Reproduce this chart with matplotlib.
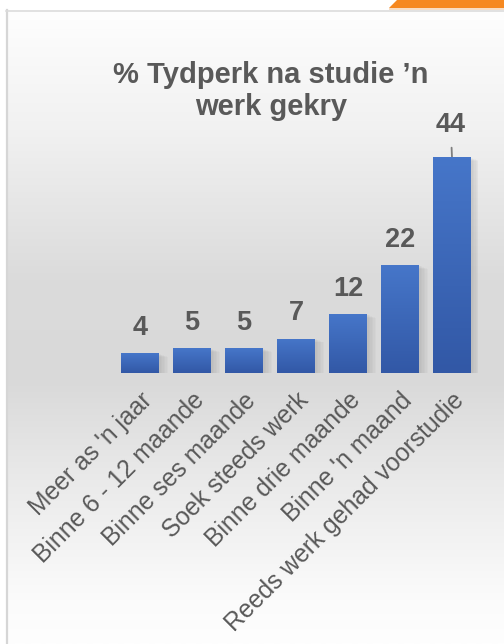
import numpy as np
import matplotlib
matplotlib.use('Agg')
import matplotlib.pyplot as plt
import matplotlib.transforms as mtransforms
from matplotlib.patches import Polygon, Rectangle

plt.rcParams['font.family'] = ['Liberation Sans', 'DejaVu Sans']

# data
categories = ["Meer as 'n jaar", "Binne 6 - 12 maande", "Binne ses maande",
              "Soek steeds werk", "Binne drie maande", "Binne 'n maand",
              "Reeds werk gehad voorstudie"]
values = [4, 5, 5, 7, 12, 22, 44]
title = "% Tydperk na studie \u2019n\nwerk gekry"

grey_text = '#595959'

fig = plt.figure(figsize=(5.04, 6.44), dpi=100)

# background panel with vertical gradient
bg = fig.add_axes([0, 0, 1, 1], zorder=-10)
bg.set_xlim(0, 504)
bg.set_ylim(644, 0)
bg.axis('off')
ys = np.arange(10, 645)
shade = np.interp(ys, [10, 130, 280, 380, 480, 600, 644],
                  [254, 241, 219, 217, 234, 251, 254]) / 255
grad = np.repeat(shade[:, None], 3, axis=1)[:, None, :]
bg.imshow(grad, extent=(6, 504, 644, 10), aspect='auto', interpolation='bilinear')
bg.plot([6.5, 6.5], [10, 644], color='#d6d6d6', lw=1.6)
bg.plot([6, 504], [10.5, 10.5], color='#dcdcdc', lw=1.2)
bg.add_patch(Polygon([(397, 0), (504, 0), (504, 8), (389, 8)], closed=True,
                     color='#f6881f', lw=0))
bg.add_patch(Rectangle((389, 8), 115, 2, color='#f8dcc2', lw=0))

# chart
ax = fig.add_axes([114 / 504, 1 - 373 / 644, 364 / 504, 245 / 644])
ax.set_facecolor('none')
x = np.arange(len(values))
bars = ax.bar(x, values, width=0.73, color='#3d66b8', zorder=3)

# soft shadows and gradient fill
top_c = np.array([0x46, 0x76, 0xc9]) / 255
bot_c = np.array([0x32, 0x58, 0xa6]) / 255
for b in bars:
    bx, bw, bh = b.get_x(), b.get_width(), b.get_height()
    for k in range(1, 7):
        ax.add_patch(Rectangle((bx + 0.02 * k, -0.12 * k), bw + 0.01 * k, bh,
                               color='black', alpha=0.018, lw=0, zorder=2))
    t = np.linspace(0, 1, 50)[:, None, None]
    img = top_c * (1 - t) + bot_c * t
    im = ax.imshow(img, extent=(bx, bx + bw, 0, bh), aspect='auto',
                   interpolation='bilinear', zorder=4)
    im.set_clip_path(b)

for xi, v in zip(x, values):
    if v == max(values):
        ax.annotate(str(v), xy=(xi, v), xytext=(-1, 14), textcoords='offset points',
                    ha='center', va='bottom', fontsize=19.5, fontweight='bold',
                    color=grey_text,
                    arrowprops=dict(arrowstyle='-', color='#7f7f7f', lw=1.3,
                                    shrinkA=5, shrinkB=0))
    else:
        ax.annotate(str(v), xy=(xi, v), xytext=(0, 9), textcoords='offset points',
                    ha='center', va='bottom', fontsize=19.5, fontweight='bold',
                    color=grey_text)

ax.set_xlim(-0.5, len(values) - 0.5)
ax.set_ylim(0, 50)
ax.set_yticks([])
ax.set_xticks(x)
ax.set_xticklabels(categories, fontsize=17.8, color=grey_text)
shift = mtransforms.ScaledTranslation(-6 / 100, 0, fig.dpi_scale_trans)
for lab in ax.get_xticklabels():
    lab.set_rotation(45)
    lab.set_ha('right')
    lab.set_rotation_mode('anchor')
    lab.set_transform(lab.get_transform() + shift)
ax.tick_params(axis='x', length=0, pad=11)
for s in ax.spines.values():
    s.set_visible(False)

fig.text(271 / 504, 1 - 61 / 644, title, ha='center', va='top', fontsize=21,
         fontweight='bold', color=grey_text, linespacing=1.2)

fig.savefig('out.png', dpi=100)
